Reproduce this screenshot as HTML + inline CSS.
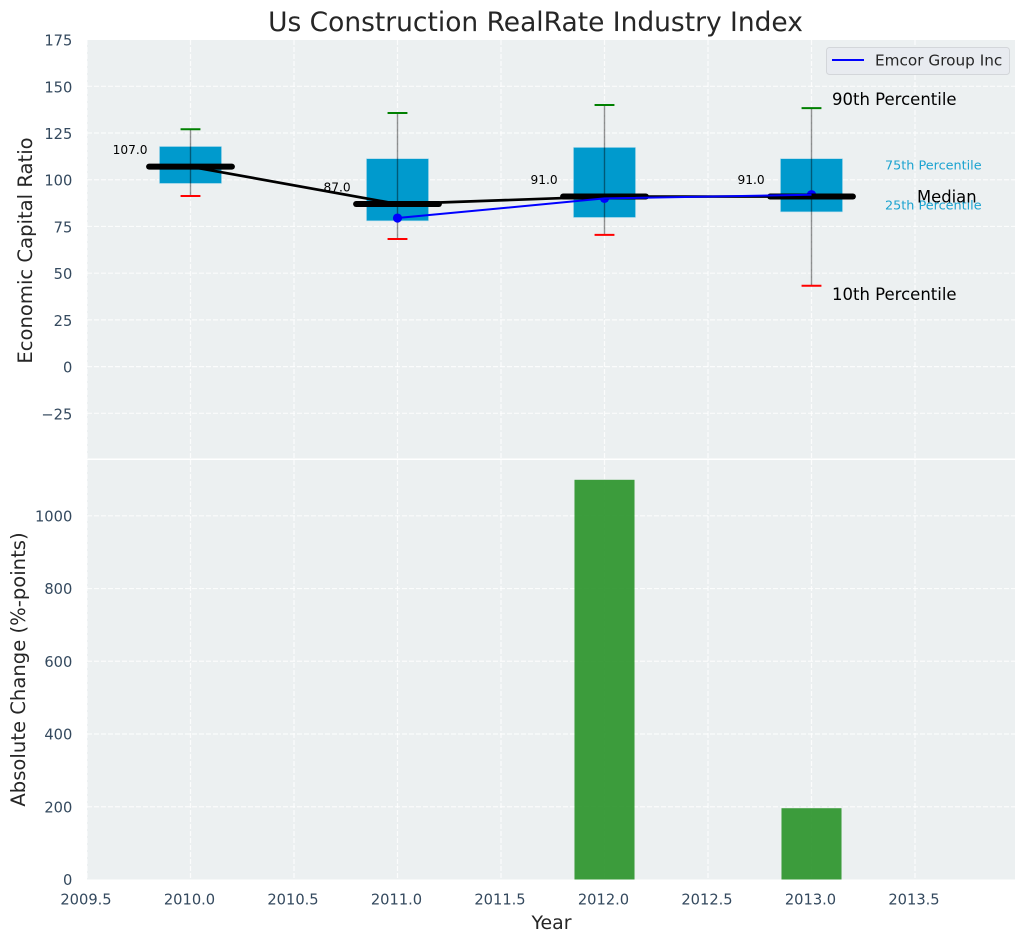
<!DOCTYPE html>
<html lang="en">
<head>
<meta charset="utf-8">
<title>Us Construction RealRate Industry Index</title>
<style>
html,body{margin:0;padding:0;background:#fff;width:1026px;height:942px;overflow:hidden}
svg{display:block;font-family:"DejaVu Sans","Liberation Sans",sans-serif}
</style>
</head>
<body>
<svg id="chart" xmlns="http://www.w3.org/2000/svg" width="1026" height="942" viewBox="0 0 1026 942">
  <rect x="87" y="40" width="928" height="418.5" fill="#ecf0f1"/>
  <rect x="87" y="460" width="928" height="419.5" fill="#ecf0f1"/>
  <g id="grid"></g>
  <g id="marks"></g>
  <g id="ticks"></g>
  <text x="535.5" y="31" text-anchor="middle" font-size="26.47" fill="#262626">Us Construction RealRate Industry Index</text>
  <text transform="translate(32,250.5) rotate(-90)" text-anchor="middle" font-size="19.6" fill="#262626">Economic Capital Ratio</text>
  <text transform="translate(25,669.5) rotate(-90)" text-anchor="middle" font-size="19.6" fill="#262626">Absolute Change (%-points)</text>
  <text x="551.5" y="929" text-anchor="middle" font-size="18.9" fill="#262626">Year</text>
  <text x="832" y="105" font-size="16.5" fill="#000">90th Percentile</text>
  <text x="885" y="169.5" font-size="12.8" fill="#1ba3d0">75th Percentile</text>
  <text x="885" y="209.5" font-size="12.8" fill="#1ba3d0">25th Percentile</text>
  <text x="917" y="202.5" font-size="16.4" fill="#000">Median</text>
  <text x="832" y="300" font-size="16.5" fill="#000">10th Percentile</text>
  <g>
    <rect x="826.5" y="47.5" width="183" height="27" rx="3" fill="#e8ebf0" stroke="#d3d6da" stroke-width="1"/>
    <line x1="832" y1="60" x2="864" y2="60" stroke="#0000ff" stroke-width="2"/>
    <text x="875" y="65.5" font-size="15.27" fill="#262626">Emcor Group Inc</text>
  </g>
</svg>
<script>
const years = [2010, 2011, 2012, 2013];
const p90 = [127, 135.7, 140, 138.3];
const p75 = [117.8, 111.3, 117.3, 111.3];
const medianValues = [107, 87, 91, 91];
const p25 = [98, 78, 79.8, 82.8];
const p10 = [91.3, 68.3, 70.5, 43.3];
const emcorValues = [null, 79.5, 90, 92];
const changeValues = [0, 0, 1099, 196];
const medianLabels = ['107.0', '87.0', '91.0', '91.0'];
const xTicks = [2009.5, 2010, 2010.5, 2011, 2011.5, 2012, 2012.5, 2013, 2013.5];
const xTickLabels = ['2009.5', '2010.0', '2010.5', '2011.0', '2011.5', '2012.0', '2012.5', '2013.0', '2013.5'];
const topTicks = [175, 150, 125, 100, 75, 50, 25, 0, -25];
const topTickLabels = ['175', '150', '125', '100', '75', '50', '25', '0', '\u221225'];
const bottomTicks = [1000, 800, 600, 400, 200, 0];
const bottomTickLabels = ['1000', '800', '600', '400', '200', '0'];

const NS = 'http://www.w3.org/2000/svg';
const xScale = function (v) { return 190.5 + (v - 2010) * 207; };
const yTop = function (v) { return 366.6 - v * 1.8686; };
const yBottom = function (v) { return 879.5 - v * 0.3637; };
const gridLayer = document.getElementById('grid');
const marks = document.getElementById('marks');
const tickLayer = document.getElementById('ticks');

function make(tag, attrs, parent) {
  const el = document.createElementNS(NS, tag);
  Object.keys(attrs).forEach(function (k) { el.setAttribute(k, attrs[k]); });
  parent.appendChild(el);
  return el;
}
function seg(x1, y1, x2, y2, stroke, width, parent) {
  return make('line', { x1: x1, y1: y1, x2: x2, y2: y2, stroke: stroke, 'stroke-width': width }, parent);
}

/* grid */
xTicks.forEach(function (t) {
  [[40, 458.5], [460, 879.5]].forEach(function (r) {
    const el = seg(xScale(t), r[0], xScale(t), r[1], '#ffffff', 1.2, gridLayer);
    el.setAttribute('stroke-dasharray', '5 2');
    el.setAttribute('stroke-opacity', '0.8');
    
    
  });
});
topTicks.forEach(function (t) {
  if (t === 175) return;
  const el = seg(87, yTop(t), 1015, yTop(t), '#ffffff', 1.2, gridLayer);
  el.setAttribute('stroke-dasharray', '5 2');
  el.setAttribute('stroke-opacity', '0.8');
  
  
});
bottomTicks.forEach(function (t) {
  if (t === 0) return;
  const el = seg(87, yBottom(t), 1015, yBottom(t), '#ffffff', 1.2, gridLayer);
  el.setAttribute('stroke-dasharray', '5 2');
  el.setAttribute('stroke-opacity', '0.8');
  
  
});

/* bars */
years.forEach(function (yr, i) {
  if (!changeValues[i]) return;
  const el = make('rect', {
    x: xScale(yr - 0.145), y: yBottom(changeValues[i]),
    width: xScale(yr + 0.145) - xScale(yr - 0.145),
    height: yBottom(0) - yBottom(changeValues[i]),
    fill: '#2d952d', 'fill-opacity': 0.92
  }, marks);
  
  
});

/* boxes, whiskers, caps */
years.forEach(function (yr, i) {
  const box = make('rect', {
    x: xScale(yr - 0.15), y: yTop(p75[i]),
    width: xScale(yr + 0.15) - xScale(yr - 0.15),
    height: yTop(p25[i]) - yTop(p75[i]),
    fill: '#009acd', stroke: '#b5dcec', 'stroke-width': 0.6
  }, marks);
  
  

  const whisker = seg(xScale(yr), yTop(p90[i]), xScale(yr), yTop(p10[i]), '#000000', 1.4, marks);
  whisker.setAttribute('stroke-opacity', '0.42');
  
  

  const capHigh = seg(xScale(yr - 0.048), yTop(p90[i]), xScale(yr + 0.048), yTop(p90[i]), '#008000', 2, marks);
  
  

  const capLow = seg(xScale(yr - 0.048), yTop(p10[i]), xScale(yr + 0.048), yTop(p10[i]), '#ff0000', 2, marks);
  
  

  const label = make('text', {
    x: xScale(yr - 0.292), y: yTop(medianValues[i]) - 12.5,
    'text-anchor': 'middle', 'font-size': 12.2, fill: '#000'
  }, marks);
  label.textContent = medianLabels[i];
  
  
});

/* median connector */
const connector = make('polyline', {
  points: years.map(function (yr, i) { return xScale(yr) + ',' + yTop(medianValues[i]); }).join(' '),
  fill: 'none', stroke: '#000000', 'stroke-width': 2.7
}, marks);



/* emcor points */
years.forEach(function (yr, i) {
  if (emcorValues[i] === null) return;
  const dot = make('circle', { cx: xScale(yr), cy: yTop(emcorValues[i]), r: 4.6, fill: '#0000ff' }, marks);
  
  
});

/* median bars */
years.forEach(function (yr, i) {
  const bar = seg(xScale(yr - 0.2), yTop(medianValues[i]), xScale(yr + 0.2), yTop(medianValues[i]), '#000000', 6, marks);
  bar.setAttribute('stroke-linecap', 'round');
  
  
});

/* emcor line */
const emcorPoints = [];
years.forEach(function (yr, i) {
  if (emcorValues[i] !== null) emcorPoints.push(xScale(yr) + ',' + yTop(emcorValues[i]));
});
const emcorLine = make('polyline', { points: emcorPoints.join(' '), fill: 'none', stroke: '#0000ff', 'stroke-width': 2 }, marks);



/* tick labels */
const tickColor = '#34495e';
xTicks.forEach(function (t, i) {
  const el = make('text', { x: xScale(t) - 1, y: 904.3, 'text-anchor': 'middle', 'font-size': 14.67, fill: tickColor }, tickLayer);
  el.textContent = xTickLabels[i];
  
  
});
topTicks.forEach(function (t, i) {
  const el = make('text', { x: 72.3, y: yTop(t) + 6, 'text-anchor': 'end', 'font-size': 14.67, fill: tickColor }, tickLayer);
  el.textContent = topTickLabels[i];
  
  
});
bottomTicks.forEach(function (t, i) {
  const el = make('text', { x: 72.3, y: yBottom(t) + 5.6, 'text-anchor': 'end', 'font-size': 14.67, fill: tickColor }, tickLayer);
  el.textContent = bottomTickLabels[i];
  
  
});
</script>
</body>
</html>
